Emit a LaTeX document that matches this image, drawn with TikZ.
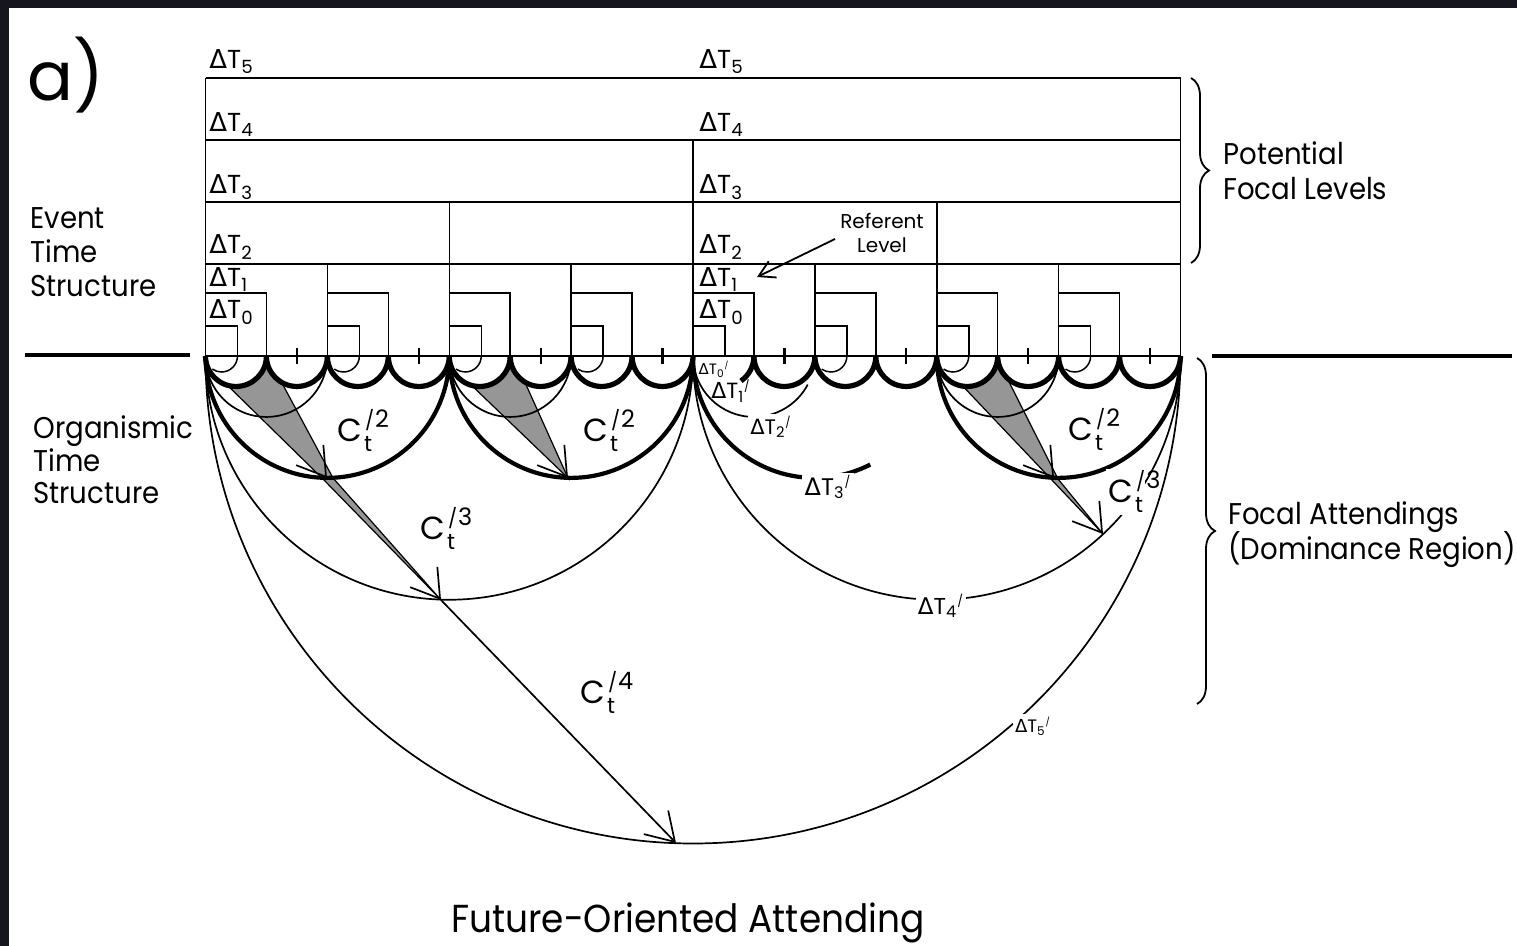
\documentclass[tikz,border=0pt]{standalone}
\usepackage{graphicx}
\usepackage{fontspec}
\setmainfont{Poppins}[FakeStretch=0.92]
\newfontfamily\wfont{Poppins}
\newfontfamily\dfont{DejaVu Sans}
\usetikzlibrary{arrows.meta,decorations.pathreplacing,calc}
\definecolor{framecol}{RGB}{22,22,30}
\definecolor{wedgecol}{RGB}{150,150,150}
\newcommand\dT[1]{{\dfont Δ}T\textsubscript{#1}}
\newcommand\dTp[1]{{\dfont Δ}T\textsubscript{#1}\textsuperscript{\scalebox{0.75}{/}}}
\newcommand\Cl[1]{C\rlap{\raisebox{7pt}{\fontsize{12}{12}\selectfont\kern1.5pt\scalebox{0.8}{/}\kern0.5pt#1}}\raisebox{-5pt}{\fontsize{11}{11}\selectfont\kern1pt t}}
\tikzset{
  boxln/.style={line width=0.75pt},
  tarc/.style={line width=0.85pt},
  karc/.style={line width=2.1pt},
  scal/.style={line width=2.6pt},
  wedge/.style={fill=wedgecol, draw=black, line width=0.6pt},
  ctip/.style={-{Straight Barb[angle=64:16pt]}, line width=0.85pt},
  lbl/.style={inner sep=0pt, anchor=base west, font=\fontsize{15}{17}\selectfont},
  dtl/.style={inner sep=0pt, anchor=base west, font=\wfont\fontsize{13}{13}\selectfont},
  cl/.style={inner sep=0pt, anchor=base west, font=\wfont\fontsize{16}{16}\selectfont},
  gapl/.style={fill=white, inner sep=1.2pt, anchor=center},
  bracestyle/.style={line width=0.9pt, decorate, decoration={brace, amplitude=9pt}}
}
\begin{document}
\begin{tikzpicture}[x=0.5pt,y=-0.5pt]
\useasboundingbox (0,0) rectangle (1517,946);
\fill[framecol] (0,0) rectangle (1517,946);
\fill[white] (9,8) rectangle (1517,946);
\def\u{60.9375}
\def\L{205.5}

% ---------- shaded wedges ----------
\filldraw[wedge] (222,380) -- (266.4,356) -- (276,372) -- (333,478) -- (441,600) -- (322,478) -- cycle;
\filldraw[wedge] (466,380) -- (510.2,356) -- (523,378) -- (568,478) -- cycle;
\filldraw[wedge] (957,380) -- (997.7,356) -- (1004,372) -- (1058,479) -- (1103,534) -- (1050,478) -- cycle;

% ---------- organismic arcs ----------
\draw[tarc] (205.5,356) arc[start angle=180,end angle=0,radius=487.5];
\draw[tarc] (205.5,356) arc[start angle=180,end angle=0,radius=243.75];
\draw[tarc] (693,356) arc[start angle=180,end angle=0,radius=243.75];
\draw[karc] (205.5,356) arc[start angle=180,end angle=0,radius=121.875];
\draw[karc] (449.25,356) arc[start angle=180,end angle=0,radius=121.875];
\draw[karc] (693,356) arc[start angle=180,end angle=63,radius=121.875];
\draw[karc] (936.75,356) arc[start angle=180,end angle=0,radius=121.875];
\foreach \k in {0,4,12}
  \draw[tarc] ({\L+\k*\u},356) arc[start angle=180,end angle=0,radius=60.9375];
\draw[tarc] (693,356) arc[start angle=180,end angle=28,radius=60.9375];

% ---------- scallops ----------
\foreach \k in {0,...,7,9,10,...,15}{
  \fill[white] ({\L+\k*\u},356) arc[start angle=180,end angle=0,radius=30.47] -- cycle;
  \draw[scal] ({\L+\k*\u},356) arc[start angle=180,end angle=0,radius=30.47];
}
\draw[scal] (753.94,356) arc[start angle=0,end angle=55,radius=30.47];

% ---------- event time boxes ----------
\foreach \y in {78,140,202,264,356}
  \draw[boxln] (205.5,\y) -- (1180.5,\y);
\draw[boxln] (205.5,78) -- (205.5,356);
\draw[boxln] (1180.5,78) -- (1180.5,356);
\draw[boxln] (693,140) -- (693,356);
\draw[boxln] (449.25,202) -- (449.25,356);
\draw[boxln] (936.75,202) -- (936.75,356);
\foreach \k in {2,6,10,14}
  \draw[boxln] ({\L+\k*\u},264) -- ({\L+\k*\u},356);
\foreach \k in {0,2,...,14}{
  \draw[boxln] ({\L+\k*\u},293) -- ({\L+(\k+1)*\u},293) -- ({\L+(\k+1)*\u},356);
  \draw[boxln] ({\L+\k*\u},326) -- ({\L+\k*\u+32},326) -- ({\L+\k*\u+32},356);
  \draw[line width=1.1pt] ({\L+(\k+1.5)*\u},348) -- ({\L+(\k+1.5)*\u},364);
}
\foreach \k in {0,2,4,6,10,12,14}
  \draw[boxln] ({\L+\k*\u+32},356) arc[start angle=0,end angle=125,radius=16];

% ---------- attending arrows ----------
\coordinate (t2a) at (327,478);
\coordinate (t3a) at (441,600);
\coordinate (t4)  at (676,843);
\coordinate (t2b) at (568,478);
\coordinate (t2d) at (1054,478);
\coordinate (t3d) at (1103,534);
\draw[ctip] ($(t2a)+(-1.8,-2.4)$) -- (t2a);
\draw[ctip] ($(t3a)+(-1.8,-2.4)$) -- (t3a);
\draw[ctip] ($(t2b)+(-1.8,-2.4)$) -- (t2b);
\draw[ctip] ($(t2d)+(-1.8,-2.4)$) -- (t2d);
\draw[ctip] ($(t3d)+(-1.8,-2.4)$) -- (t3d);
\draw[ctip] (t3a) -- (t4);

% ---------- dividers and braces ----------
\coordinate (dl1) at (25,355); \coordinate (dl2) at (190,355);
\coordinate (dr1) at (1212,356); \coordinate (dr2) at (1512,356);
\draw[line width=2pt] (dl1) -- (dl2);
\draw[line width=2pt] (dr1) -- (dr2);
\coordinate (b1t) at (1191,78); \coordinate (b1b) at (1191,263);
\coordinate (b2t) at (1197,358); \coordinate (b2b) at (1197,704);
\draw[bracestyle] (b1t) -- (b1b);
\draw[bracestyle] (b2t) -- (b2b);

% ---------- labels ----------
\node[inner sep=0pt, anchor=base west, font=\wfont\fontsize{34}{34}\selectfont] (ta) at (27,101) {a)};
\node[lbl] (ev1) at (30,229) {Event};
\node[lbl] (ev2) at (30,263) {Time};
\node[lbl] (ev3) at (30,297) {Structure};
\node[lbl] (or1) at (33,439) {Organismic};
\node[lbl] (or2) at (33,472) {Time};
\node[lbl] (or3) at (33,504) {Structure};
\node[lbl] (pf1) at (1223,165) {Potential};
\node[lbl] (pf2) at (1223,200) {Focal Levels};
\node[lbl] (fa1) at (1228,525) {Focal Attendings};
\node[lbl] (fa2) at (1228,560) {(Dominance Region)};
\node[inner sep=0pt, anchor=base, font=\fontsize{19.5}{20}\selectfont] (fut) at (688,932) {Future-Oriented Attending};

\node[dtl] (l5) at (209,69) {\dT{5}};
\node[dtl] (l4) at (209,132) {\dT{4}};
\node[dtl] (l3) at (209,194) {\dT{3}};
\node[dtl] (l2) at (209,254) {\dT{2}};
\node[dtl] (l1) at (209,287) {\dT{1}};
\node[dtl] (l0) at (209,319) {\dT{0}};
\node[dtl] (r5) at (699,69) {\dT{5}};
\node[dtl] (r4) at (699,132) {\dT{4}};
\node[dtl] (r3) at (699,194) {\dT{3}};
\node[dtl] (r2) at (699,254) {\dT{2}};
\node[dtl] (r1) at (699,287) {\dT{1}};
\node[dtl] (r0) at (699,319) {\dT{0}};

\node[inner sep=0pt, anchor=base, font=\wfont\fontsize{10}{10}\selectfont] (ref1) at (882,229) {Referent};
\node[inner sep=0pt, anchor=base, font=\wfont\fontsize{10}{10}\selectfont] (ref2) at (882,253) {Level};
\coordinate (refA) at (835,239);
\coordinate (refB) at (757,277);
\draw[line width=0.9pt, -{Straight Barb[angle=60:9pt]}] (refA) -- (refB);

\node[cl] (c2a) at (337,442) {\Cl{2}};
\node[cl] (c2b) at (583,442) {\Cl{2}};
\node[cl] (c2d) at (1068,441) {\Cl{2}};
\node[cl] (c3a) at (420,540) {\Cl{3}};
\node[cl, fill=white, inner sep=1pt] (c3d) at (1106,503) {\Cl{3}};
\node[cl] (c4) at (580,704) {\Cl{4}};

\node[gapl, font=\wfont\fontsize{7.5}{8}\selectfont, fill=none] (p0) at (714,369) {\dTp{0}};
\node[gapl, font=\wfont\fontsize{11}{11}\selectfont, fill=none] (p1) at (731,391) {\dTp{1}};
\node[gapl, font=\wfont\fontsize{10.5}{11}\selectfont] (p2) at (771,427) {\dTp{2}};
\node[gapl, font=\wfont\fontsize{12}{12}\selectfont] (p3) at (828,487) {\dTp{3}};
\node[gapl, font=\wfont\fontsize{11.5}{12}\selectfont] (p4) at (941,606) {\dTp{4}};
\node[gapl, font=\wfont\fontsize{9}{9}\selectfont] (p5) at (1033,726) {\dTp{5}};
\end{tikzpicture}
\end{document}
